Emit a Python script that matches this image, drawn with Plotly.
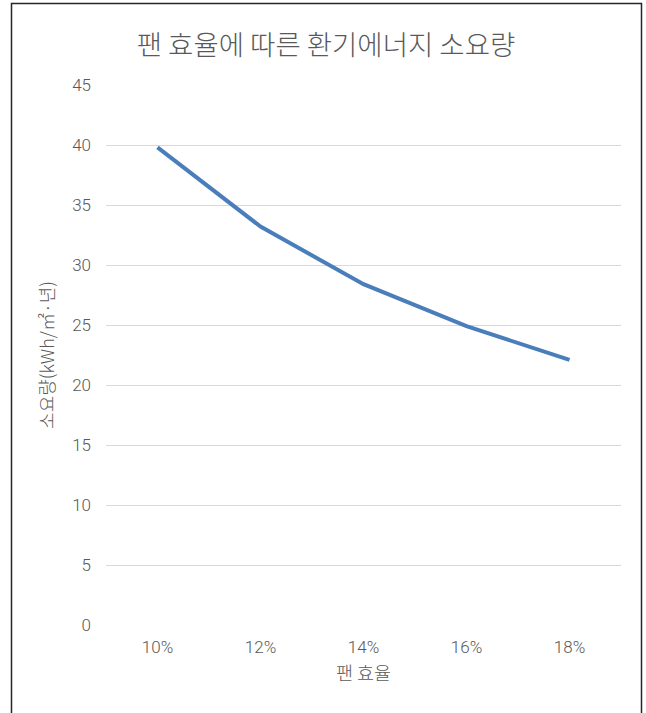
import plotly.graph_objects as go

# Fan efficiency vs. ventilation energy demand
fan_efficiency = ["10%", "12%", "14%", "16%", "18%"]
energy_demand = [39.8, 33.2, 28.4, 24.9, 22.1]
y_ticks = [0, 5, 10, 15, 20, 25, 30, 35, 40, 45]

W, H = 646, 713
ML, MR, MT, MB = 106, 25, 85, 88
PW, PH = W - ML - MR, H - MT - MB


def px_x(px):
    return (px - ML) / PW


def px_y(py):
    return (H - MB - py) / PH


FONT = "Noto Sans CJK KR"
NUM_FONT = "Roboto, Noto Sans CJK KR"
TXT = "#595959"

fig = go.Figure(
    go.Scatter(
        x=fan_efficiency,
        y=energy_demand,
        mode="lines",
        line=dict(color="#4a7ebb", width=4),
        hoverinfo="x+y",
    )
)

fig.update_layout(
    width=W,
    height=H,
    margin=dict(l=ML, r=MR, t=MT, b=MB),
    paper_bgcolor="white",
    plot_bgcolor="white",
    showlegend=False,
    font=dict(family=FONT, color=TXT, size=17, weight=300),
    title=dict(
        text="팬 효율에 따른 환기에너지 소요량",
        font=dict(family=FONT, size=27.5, color=TXT, weight=300),
        x=326 / W,
        xanchor="center",
        y=1 - 45 / H,
        yanchor="middle",
    ),
    xaxis=dict(
        type="category",
        range=[-0.5, 4.5],
        showgrid=False,
        showline=False,
        ticks="",
        ticklabelstandoff=10,
        tickfont=dict(family=NUM_FONT, size=17, color=TXT, weight=300),
        title=dict(text="팬 효율", font=dict(size=18.5, color=TXT, weight=300), standoff=11),
    ),
    yaxis=dict(
        range=[0, 45],
        tickvals=y_ticks,
        showgrid=True,
        gridcolor="#d9d9d9",
        gridwidth=1,
        zeroline=False,
        showline=False,
        ticks="",
        ticklabelstandoff=14,
        tickfont=dict(family=NUM_FONT, size=17, color=TXT, weight=300),
        title=dict(text="소요량(kWh/㎡·년)", font=dict(size=18, color=TXT, weight=300), standoff=12),
    ),
    shapes=[
        dict(
            type="rect",
            xref="paper",
            yref="paper",
            x0=px_x(11.5),
            x1=px_x(641.5),
            y0=px_y(740),
            y1=px_y(3.5),
            line=dict(color="#262626", width=1.5),
            fillcolor="rgba(0,0,0,0)",
            layer="above",
        )
    ],
)

fig.write_html("out.html")
